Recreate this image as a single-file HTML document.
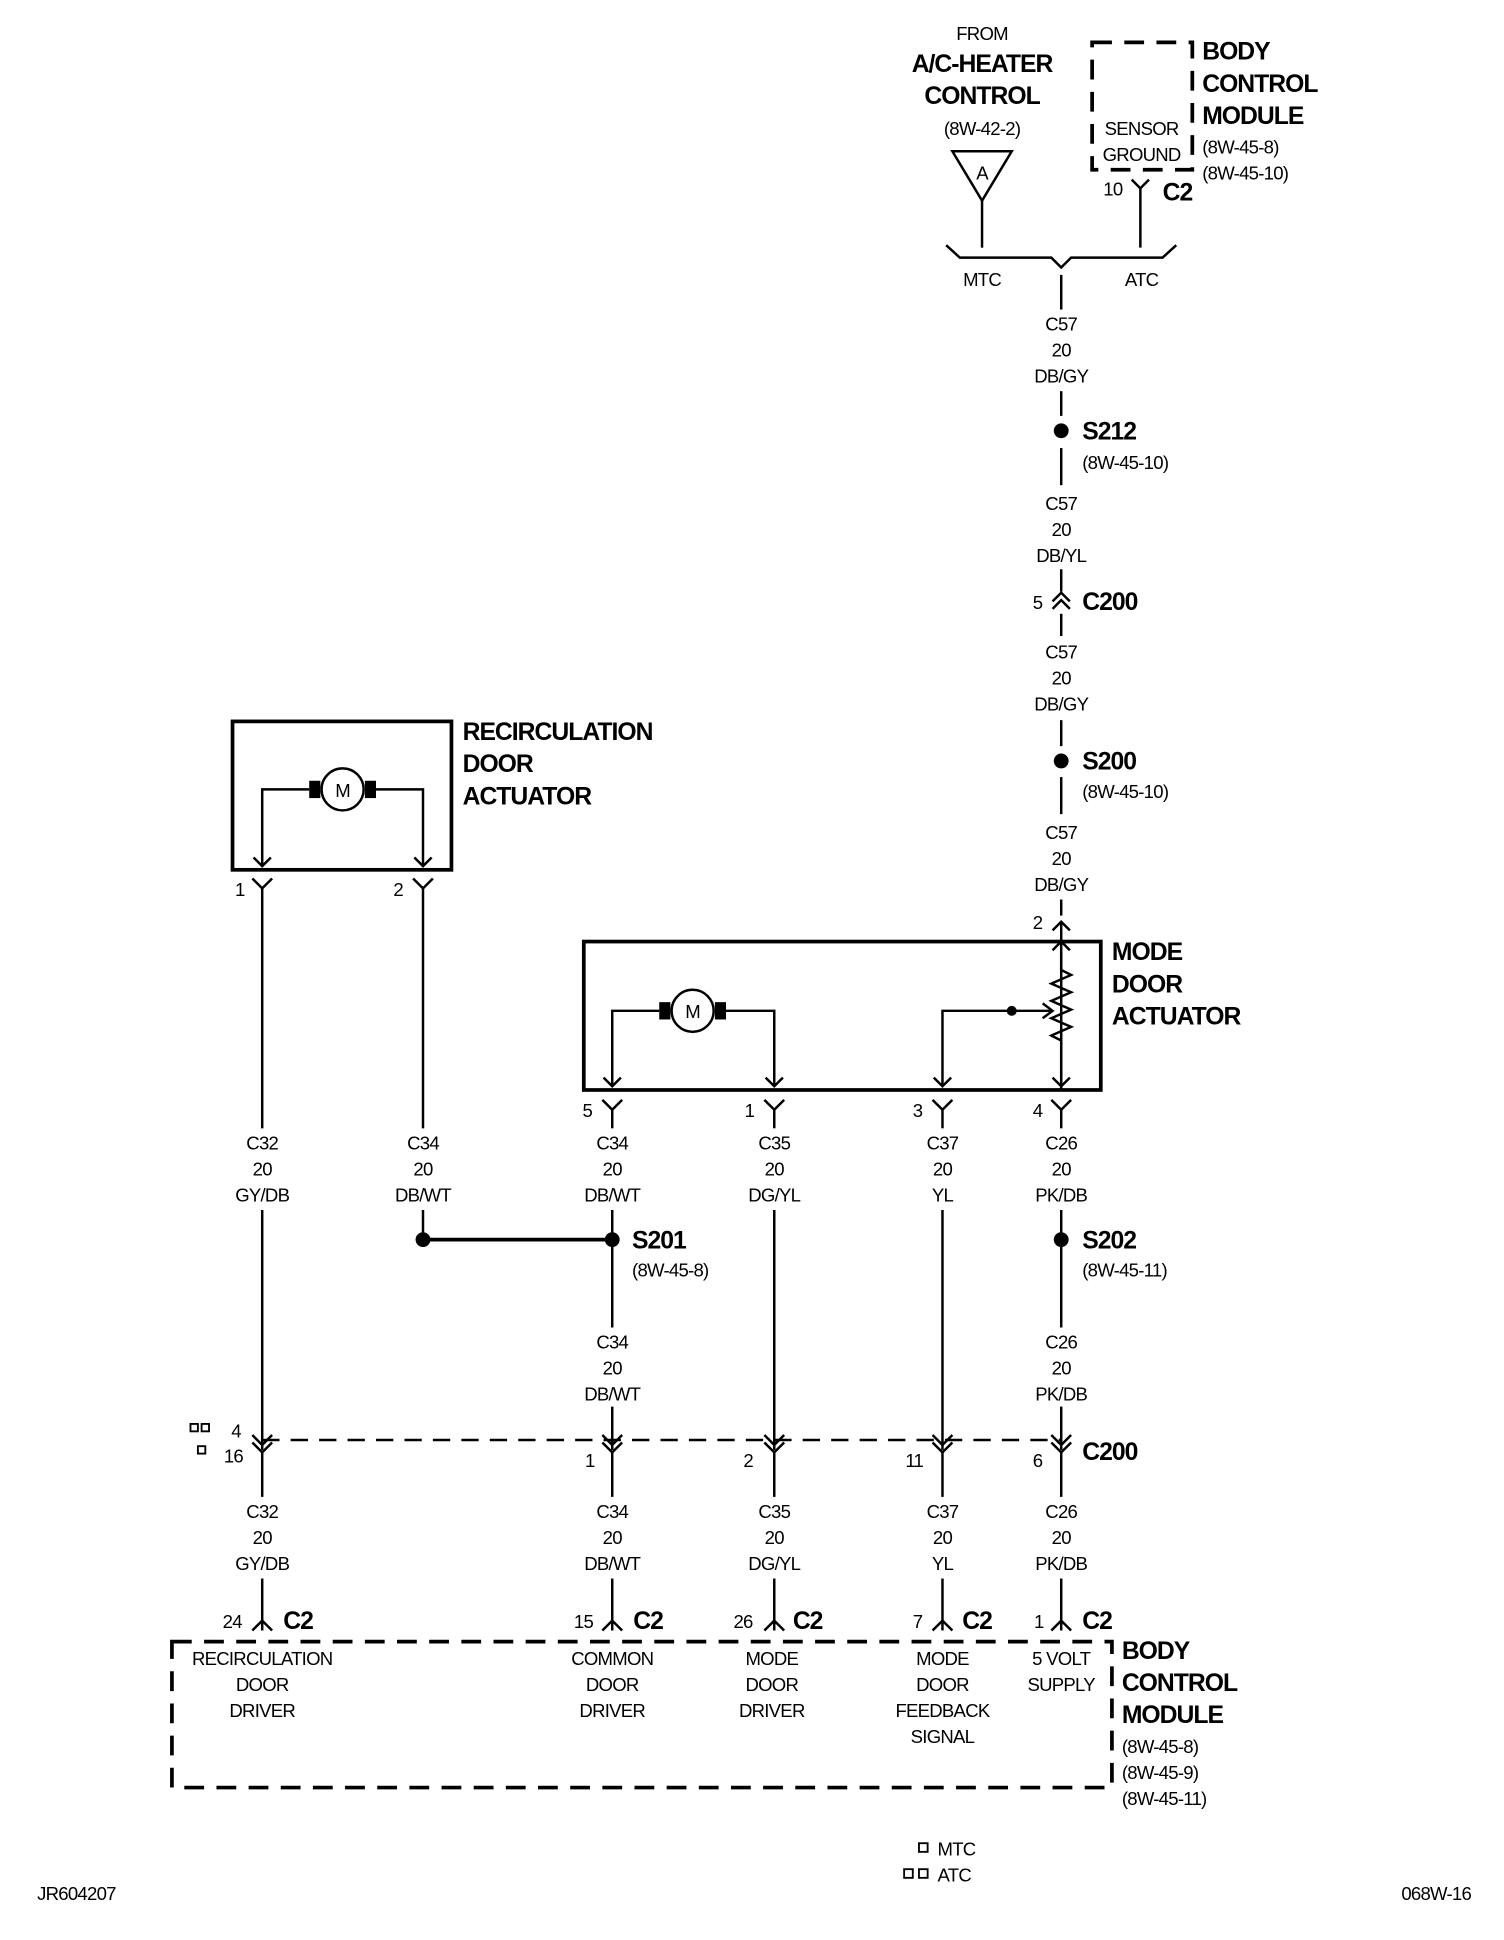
<!DOCTYPE html>
<html><head><meta charset="utf-8"><style>
html,body{margin:0;padding:0;background:#fff;}
svg{display:block;}
text{font-family:"Liberation Sans",sans-serif;fill:#000;}
.s{font-size:15px;letter-spacing:-0.6px;}
.b{font-size:20px;font-weight:bold;letter-spacing:-0.8px;}
.m{text-anchor:middle;}
</style></head><body>
<svg width="1504" height="1940" viewBox="0 0 1216 1568" xmlns="http://www.w3.org/2000/svg">
<g stroke="#000" fill="none" stroke-width="2">
<!-- top -->
<polygon points="770,122 818,122 794,162"/>
<line x1="794" y1="162" x2="794" y2="200"/>
<rect x="883" y="34" width="81" height="103" stroke-width="3" stroke-dasharray="16,10"/>
<path d="M915,145 L922,152 L929,145 M922,152 V200"/>
<path d="M765,198 L776,208 H850 L858,216 L866,208 H940 L951,198"/>
<line x1="858" y1="222" x2="858" y2="250"/>
<line x1="858" y1="316" x2="858" y2="336"/>
<line x1="858" y1="362" x2="858" y2="392"/>
<line x1="858" y1="460" x2="858" y2="478"/>
<path d="M851,486 L858,479 L865,486 M851,492 L858,485 L865,492"/>
<line x1="858" y1="496" x2="858" y2="514"/>
<line x1="858" y1="582" x2="858" y2="603"/>
<line x1="858" y1="628" x2="858" y2="658"/>
<line x1="858" y1="727" x2="858" y2="740"/>
<path d="M851,752 L858,745 L865,752 M858,745 V882"/>
<!-- recirc box -->
<rect x="188" y="583" width="177" height="120" stroke-width="3"/>
<circle cx="277" cy="638" r="17"/>
<path d="M212,700 V638 H250 M304,638 H342 V700"/>
<path d="M205,693 L212,700 L219,693 M335,693 L342,700 L349,693"/>
<path d="M204,710 L212,718 L220,710 M334,710 L342,718 L350,710"/>
<line x1="212" y1="718" x2="212" y2="912"/>
<line x1="342" y1="718" x2="342" y2="912"/>
<!-- mode box -->
<rect x="472" y="761" width="418" height="120" stroke-width="3"/>
<circle cx="560" cy="817" r="17"/>
<path d="M495,878 V817 H533 M587,817 H626 V878"/>
<path d="M762,878 V817 H818"/>
<path d="M858,770 L858,784 L866,788 L850,795 L866,802 L850,809 L866,816 L850,823 L866,830 L850,837 L858,841 V878"/>
<path d="M818,817 H850 M843,811 L851,817 L843,823"/>
<path d="M851,768 L858,761 L865,768"/>
<path d="M488,871 L495,878 L502,871 M619,871 L626,878 L633,871 M755,871 L762,878 L769,871 M851,871 L858,878 L865,871"/>
<path d="M487,889 L495,897 L503,889 M618,889 L626,897 L634,889 M754,889 L762,897 L770,889 M850,889 L858,897 L866,889"/>
<line x1="495" y1="897" x2="495" y2="912"/>
<line x1="626" y1="897" x2="626" y2="912"/>
<line x1="762" y1="897" x2="762" y2="912"/>
<line x1="858" y1="897" x2="858" y2="912"/>
<!-- mid wires -->
<line x1="212" y1="978" x2="212" y2="1172"/>
<line x1="342" y1="978" x2="342" y2="1002"/>
<line x1="342" y1="1002" x2="495" y2="1002" stroke-width="3"/>
<line x1="495" y1="978" x2="495" y2="1073"/>
<line x1="626" y1="978" x2="626" y2="1172"/>
<line x1="762" y1="978" x2="762" y2="1172"/>
<line x1="858" y1="978" x2="858" y2="1073"/>
<line x1="495" y1="1137" x2="495" y2="1172"/>
<line x1="858" y1="1137" x2="858" y2="1172"/>
<line x1="212" y1="1164" x2="858" y2="1164" stroke-dasharray="14,9"/>
<g id="dc">
<path d="M204,1160 L212,1168 L220,1160 M204,1166 L212,1174 L220,1166"/>
</g>
<path d="M487,1160 L495,1168 L503,1160 M487,1166 L495,1174 L503,1166"/>
<path d="M618,1160 L626,1168 L634,1160 M618,1166 L626,1174 L634,1166"/>
<path d="M754,1160 L762,1168 L770,1160 M754,1166 L762,1174 L770,1166"/>
<path d="M850,1160 L858,1168 L866,1160 M850,1166 L858,1174 L866,1166"/>
<line x1="212" y1="1174" x2="212" y2="1210"/>
<line x1="495" y1="1174" x2="495" y2="1210"/>
<line x1="626" y1="1174" x2="626" y2="1210"/>
<line x1="762" y1="1174" x2="762" y2="1210"/>
<line x1="858" y1="1174" x2="858" y2="1210"/>
<line x1="212" y1="1276" x2="212" y2="1318"/>
<line x1="495" y1="1276" x2="495" y2="1318"/>
<line x1="626" y1="1276" x2="626" y2="1318"/>
<line x1="762" y1="1276" x2="762" y2="1318"/>
<line x1="858" y1="1276" x2="858" y2="1318"/>
<path d="M204,1318 L212,1310 L220,1318 M487,1318 L495,1310 L503,1318 M618,1318 L626,1310 L634,1318 M754,1318 L762,1310 L770,1318 M850,1318 L858,1310 L866,1318"/>
<rect x="139" y="1327" width="760" height="118" stroke-width="3" stroke-dasharray="16,10"/>
<!-- legend squares -->
<rect x="154" y="1151" width="6" height="6" stroke-width="1.5"/>
<rect x="163" y="1151" width="6" height="6" stroke-width="1.5"/>
<rect x="160" y="1169" width="6" height="6" stroke-width="1.5"/>
<rect x="743" y="1490" width="7" height="7" stroke-width="1.5"/>
<rect x="731" y="1511" width="7" height="7" stroke-width="1.5"/>
<rect x="743" y="1511" width="7" height="7" stroke-width="1.5"/>
</g>
<g fill="#000">
<rect x="250" y="631" width="9" height="14"/><rect x="295" y="631" width="9" height="14"/>
<rect x="533" y="810" width="9" height="14"/><rect x="578" y="810" width="9" height="14"/>
<circle cx="818" cy="817" r="4"/>
<circle cx="858" cy="348" r="6"/><circle cx="858" cy="615" r="6"/>
<circle cx="342" cy="1002" r="6"/><circle cx="495" cy="1002" r="6"/><circle cx="858" cy="1002" r="6"/>
</g>
<text class="s m" x="277" y="644">M</text>
<text class="s m" x="560" y="823">M</text>
<text class="s m" x="794" y="145">A</text>
<text class="s m" x="794" y="32">FROM</text>
<text class="b m" x="794" y="58">A/C-HEATER</text>
<text class="b m" x="794" y="84">CONTROL</text>
<text class="s m" x="794" y="109">(8W-42-2)</text>
<text class="s m" x="923" y="109">SENSOR</text>
<text class="s m" x="923" y="130">GROUND</text>
<text class="b" x="972" y="48">BODY</text>
<text class="b" x="972" y="74">CONTROL</text>
<text class="b" x="972" y="100">MODULE</text>
<text class="s" x="972" y="124">(8W-45-8)</text>
<text class="s" x="972" y="145">(8W-45-10)</text>
<text class="s" x="892" y="158">10</text>
<text class="b" x="940" y="162">C2</text>
<text class="s m" x="794" y="231">MTC</text>
<text class="s m" x="923" y="231">ATC</text>
<g class="s m">
<text x="858" y="267">C57</text><text x="858" y="288">20</text><text x="858" y="309">DB/GY</text>
<text x="858" y="412">C57</text><text x="858" y="433">20</text><text x="858" y="454">DB/YL</text>
<text x="858" y="532">C57</text><text x="858" y="553">20</text><text x="858" y="574">DB/GY</text>
<text x="858" y="678">C57</text><text x="858" y="699">20</text><text x="858" y="720">DB/GY</text>
</g>
<text class="b" x="875" y="355">S212</text><text class="s" x="875" y="379">(8W-45-10)</text>
<text class="s" x="835" y="492">5</text><text class="b" x="875" y="493">C200</text>
<text class="b" x="875" y="622">S200</text><text class="s" x="875" y="645">(8W-45-10)</text>
<text class="s" x="835" y="751">2</text>
<text class="b" x="374" y="598">RECIRCULATION</text>
<text class="b" x="374" y="624">DOOR</text>
<text class="b" x="374" y="650">ACTUATOR</text>
<text class="b" x="899" y="776">MODE</text>
<text class="b" x="899" y="802">DOOR</text>
<text class="b" x="899" y="828">ACTUATOR</text>
<text class="s" x="190" y="724">1</text><text class="s" x="318" y="724">2</text>
<text class="s" x="471" y="903">5</text><text class="s" x="602" y="903">1</text><text class="s" x="738" y="903">3</text><text class="s" x="835" y="903">4</text>
<g class="s m">
<text x="212" y="929">C32</text><text x="212" y="950">20</text><text x="212" y="971">GY/DB</text>
<text x="342" y="929">C34</text><text x="342" y="950">20</text><text x="342" y="971">DB/WT</text>
<text x="495" y="929">C34</text><text x="495" y="950">20</text><text x="495" y="971">DB/WT</text>
<text x="626" y="929">C35</text><text x="626" y="950">20</text><text x="626" y="971">DG/YL</text>
<text x="762" y="929">C37</text><text x="762" y="950">20</text><text x="762" y="971">YL</text>
<text x="858" y="929">C26</text><text x="858" y="950">20</text><text x="858" y="971">PK/DB</text>
<text x="495" y="1090">C34</text><text x="495" y="1111">20</text><text x="495" y="1132">DB/WT</text>
<text x="858" y="1090">C26</text><text x="858" y="1111">20</text><text x="858" y="1132">PK/DB</text>
<text x="212" y="1227">C32</text><text x="212" y="1248">20</text><text x="212" y="1269">GY/DB</text>
<text x="495" y="1227">C34</text><text x="495" y="1248">20</text><text x="495" y="1269">DB/WT</text>
<text x="626" y="1227">C35</text><text x="626" y="1248">20</text><text x="626" y="1269">DG/YL</text>
<text x="762" y="1227">C37</text><text x="762" y="1248">20</text><text x="762" y="1269">YL</text>
<text x="858" y="1227">C26</text><text x="858" y="1248">20</text><text x="858" y="1269">PK/DB</text>
</g>
<text class="b" x="511" y="1009">S201</text><text class="s" x="511" y="1032">(8W-45-8)</text>
<text class="b" x="875" y="1009">S202</text><text class="s" x="875" y="1032">(8W-45-11)</text>
<text class="s" x="187" y="1162">4</text><text class="s" x="181" y="1182">16</text>
<text class="s" x="473" y="1186">1</text><text class="s" x="601" y="1186">2</text><text class="s" x="732" y="1186">11</text><text class="s" x="835" y="1186">6</text>
<text class="b" x="875" y="1180">C200</text>
<text class="s" x="180" y="1316">24</text><text class="b" x="229" y="1317">C2</text>
<text class="s" x="464" y="1316">15</text><text class="b" x="512" y="1317">C2</text>
<text class="s" x="593" y="1316">26</text><text class="b" x="641" y="1317">C2</text>
<text class="s" x="738" y="1316">7</text><text class="b" x="778" y="1317">C2</text>
<text class="s" x="836" y="1316">1</text><text class="b" x="875" y="1317">C2</text>
<g class="s m">
<text x="212" y="1346">RECIRCULATION</text><text x="212" y="1367">DOOR</text><text x="212" y="1388">DRIVER</text>
<text x="495" y="1346">COMMON</text><text x="495" y="1367">DOOR</text><text x="495" y="1388">DRIVER</text>
<text x="624" y="1346">MODE</text><text x="624" y="1367">DOOR</text><text x="624" y="1388">DRIVER</text>
<text x="762" y="1346">MODE</text><text x="762" y="1367">DOOR</text><text x="762" y="1388">FEEDBACK</text><text x="762" y="1409">SIGNAL</text>
<text x="858" y="1346">5 VOLT</text><text x="858" y="1367">SUPPLY</text>
</g>
<text class="b" x="907" y="1341">BODY</text>
<text class="b" x="907" y="1367">CONTROL</text>
<text class="b" x="907" y="1393">MODULE</text>
<text class="s" x="907" y="1417">(8W-45-8)</text>
<text class="s" x="907" y="1438">(8W-45-9)</text>
<text class="s" x="907" y="1459">(8W-45-11)</text>
<text class="s" x="758" y="1500">MTC</text>
<text class="s" x="758" y="1521">ATC</text>
<text class="s" x="30" y="1536">JR604207</text>
<text class="s" x="1133" y="1536">068W-16</text>
</svg>
</body></html>
